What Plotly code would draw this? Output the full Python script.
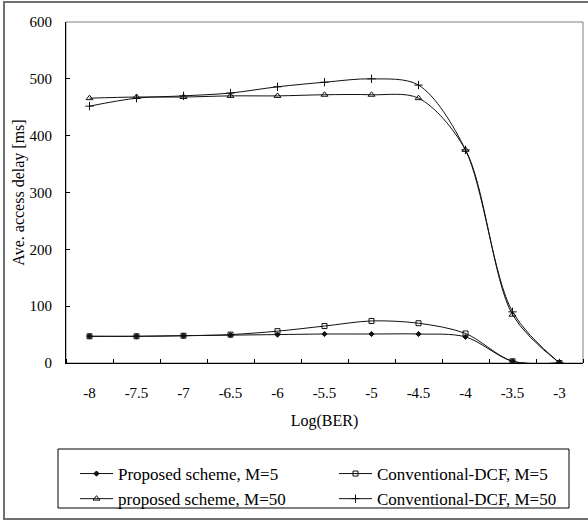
import plotly.graph_objects as go

log_ber = [-8, -7.5, -7, -6.5, -6, -5.5, -5, -4.5, -4, -3.5, -3]
proposed_m5 = [47, 47, 48, 49, 50, 51, 51, 51, 46, 3, 0]
dcf_m5 = [47, 47, 48, 50, 56, 65, 74, 70, 52, 3, 0]
proposed_m50 = [466, 468, 468, 470, 470, 472, 472, 466, 375, 85, 0]
dcf_m50 = [452, 466, 470, 475, 486, 494, 500, 489, 375, 90, 0]

names = ["Proposed scheme, M=5", "Conventional-DCF, M=5",
         "proposed scheme, M=50", "Conventional-DCF, M=50"]
series = [proposed_m5, dcf_m5, proposed_m50, dcf_m50]
symbols = ["diamond", "square-open", "triangle-up-open", "cross-thin-open"]
msizes = [4, 5, 6, 6]

FONT = "Liberation Serif, Times New Roman, serif"

fig = go.Figure()
for nm, ys, sym, ms in zip(names, series, symbols, msizes):
    fig.add_trace(go.Scatter(
        x=log_ber, y=ys, name=nm, mode="lines+markers",
        line=dict(color="#111111", width=1, shape="spline", smoothing=0.9),
        marker=dict(symbol=sym, size=ms, color="#111111",
                    line=dict(color="#111111", width=1)),
    ))

W, H = 588, 524
L, R, T, B = 66, 5, 22, 161
pw, ph = W - L - R, H - T - B

def px_x(p):
    return (p - L) / pw

def px_y(p):
    return (H - B - p) / ph

fig.update_layout(
    width=W, height=H,
    margin=dict(l=L, r=R, t=T, b=B, autoexpand=False),
    paper_bgcolor="white", plot_bgcolor="white",
    font=dict(family=FONT, size=15, color="black"),
    showlegend=True,
    legend=dict(
        orientation="h", x=px_x(65), y=px_y(456), xanchor="left", yanchor="top",
        entrywidth=201, entrywidthmode="pixels", indentation=10,
        font=dict(family=FONT, size=17, color="black"),
        bgcolor="rgba(0,0,0,0)", borderwidth=0, itemwidth=33,
        tracegroupgap=0,
    ),
    xaxis=dict(
        range=[-8.25, -2.75], tickmode="array", tickvals=log_ber,
        ticktext=[str(v) for v in log_ber], ticks="",
        showgrid=False, zeroline=False, showline=True, linecolor="black", linewidth=1,
        minor=dict(tick0=-7.75, dtick=0.5, ticks="inside", ticklen=4,
                   tickcolor="black", tickwidth=1, showgrid=False),
        ticklabelstandoff=16, automargin=False,
        title=dict(text="Log(BER)", font=dict(family=FONT, size=16), standoff=14),
        tickfont=dict(family=FONT, size=15),
    ),
    yaxis=dict(
        range=[0, 600], dtick=100, tick0=0, ticks="inside", ticklen=4,
        tickcolor="black", showgrid=False, zeroline=False, showline=True,
        linecolor="black", linewidth=1, ticklabelstandoff=10, automargin=False,
        title=dict(text="Ave. access delay [ms]", font=dict(family=FONT, size=16), standoff=0),
        tickfont=dict(family=FONT, size=15),
    ),
    shapes=[
        dict(type="rect", xref="paper", yref="paper", x0=0, x1=1, y0=0, y1=1,
             line=dict(color="#808080", width=1), layer="below"),
        dict(type="rect", xref="paper", yref="paper",
             x0=px_x(4), x1=px_x(600), y0=px_y(2), y1=px_y(519),
             line=dict(color="#707070", width=2), layer="below"),
        dict(type="rect", xref="paper", yref="paper",
             x0=px_x(58), x1=px_x(569), y0=px_y(449), y1=px_y(508),
             line=dict(color="black", width=1), layer="below"),
    ],
)

fig.write_html("out.html", config={"displayModeBar": False},
               post_script="document.body.style.margin='0px';document.body.style.overflow='hidden';")
